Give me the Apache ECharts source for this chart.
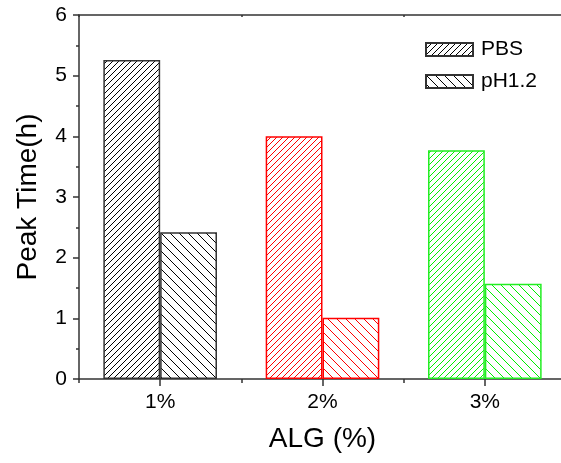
<!DOCTYPE html>
<html><head><meta charset="utf-8">
<script src="https://cdn.jsdelivr.net/npm/echarts@6/dist/echarts.min.js"></script>
<style>html,body{margin:0;padding:0;background:#fff}#c{width:561px;height:463px}</style>
</head><body><div id="c"></div>
<script>
const categories = ['1%', '2%', '3%'];
const pbsValues = [5.26, 4.0, 3.77];
const phValues = [2.42, 1.01, 1.57];
const seriesNames = ['PBS', 'pH1.2'];
const yTicks = [0, 1, 2, 3, 4, 5, 6];

const catColors = ['#000000', '#ff0000', '#00ee00'];
const borderColors = ['#333333', '#ff0000', '#22ee22'];

function makePattern(color, s, dir) {
  const cv = document.createElement('canvas');
  cv.width = s; cv.height = s;
  const ctx = cv.getContext('2d');
  ctx.fillStyle = '#fff';
  ctx.fillRect(0, 0, s, s);
  ctx.strokeStyle = color;
  ctx.lineWidth = 1;
  ctx.beginPath();
  if (dir === '/') {
    ctx.moveTo(0, s); ctx.lineTo(s, 0);
    ctx.moveTo(-2, 2); ctx.lineTo(2, -2);
    ctx.moveTo(s - 2, s + 2); ctx.lineTo(s + 2, s - 2);
  } else {
    ctx.moveTo(0, 0); ctx.lineTo(s, s);
    ctx.moveTo(s - 2, -2); ctx.lineTo(s + 2, 2);
    ctx.moveTo(-2, s - 2); ctx.lineTo(2, s + 2);
  }
  ctx.stroke();
  return { image: cv, repeat: 'repeat' };
}

function buildData(values, dir, s) {
  return values.map((v, i) => ({
    value: v,
    itemStyle: { color: makePattern(catColors[i], s, dir), borderColor: borderColors[i] }
  }));
}

const chart = echarts.init(document.getElementById('c'), null, { renderer: 'canvas' });
const fontFamily = 'Liberation Sans, Arial, sans-serif';
const axisLineStyle = { color: '#333', width: 1.5 };

chart.setOption({
  animation: false,
  backgroundColor: '#fff',
  textStyle: { fontFamily: fontFamily, color: '#000' },
  grid: { left: 79, top: 15, right: -5, bottom: 84, containLabel: false, outerBoundsMode: 'none' },
  legend: {
    left: 425, top: 39, padding: 0, orient: 'vertical',
    itemWidth: 47, itemHeight: 13, itemGap: 11, icon: 'rect',
    textStyle: { fontSize: 21, color: '#000', fontFamily: fontFamily, padding: [0, 0, 0, 3] },
    data: seriesNames
  },
  xAxis: [
    {
      type: 'category', data: categories, position: 'bottom',
      axisLine: { show: true, lineStyle: axisLineStyle },
      axisTick: { show: true, alignWithLabel: true, length: 7, lineStyle: axisLineStyle },
      axisLabel: { fontSize: 21, color: '#000', margin: 13, fontFamily: fontFamily },
      name: 'ALG (%)', nameLocation: 'middle', nameGap: 46,
      nameTextStyle: { fontSize: 28, color: '#000', fontFamily: fontFamily }
    },
    {
      type: 'category', data: categories, position: 'bottom',
      axisLine: { show: false },
      axisTick: { show: true, length: 4, lineStyle: axisLineStyle },
      axisLabel: { show: false }
    },
    {
      type: 'category', data: categories, position: 'top',
      axisLine: { show: true, lineStyle: axisLineStyle },
      axisTick: { show: true, inside: true, length: 2, lineStyle: axisLineStyle },
      axisLabel: { show: false }
    }
  ],
  yAxis: {
    type: 'value', min: yTicks[0], max: yTicks[yTicks.length - 1], interval: 1,
    axisLine: { show: true, lineStyle: axisLineStyle },
    axisTick: { show: true, length: 6, lineStyle: axisLineStyle },
    minorTick: { show: true, splitNumber: 2, length: 3, lineStyle: { color: '#333', width: 1.5 } },
    splitLine: { show: false },
    axisLabel: { fontSize: 21, color: '#000', margin: 12, fontFamily: fontFamily },
    name: 'Peak Time(h)', nameLocation: 'middle', nameGap: 37,
    nameTextStyle: { fontSize: 28, color: '#000', fontFamily: fontFamily }
  },
  series: [
    {
      name: seriesNames[0], type: 'bar', xAxisIndex: 0,
      barWidth: '35%', barGap: '0%',
      itemStyle: { color: makePattern('#000', 6, '/'), borderColor: '#333', borderWidth: 1.5 },
      data: buildData(pbsValues, '/', 6)
    },
    {
      name: seriesNames[1], type: 'bar', xAxisIndex: 0,
      barWidth: '35%', barGap: '0%',
      itemStyle: { color: makePattern('#000', 9, '\\'), borderColor: '#333', borderWidth: 1.5 },
      data: buildData(phValues, '\\', 9)
    }
  ]
});
</script></body></html>
